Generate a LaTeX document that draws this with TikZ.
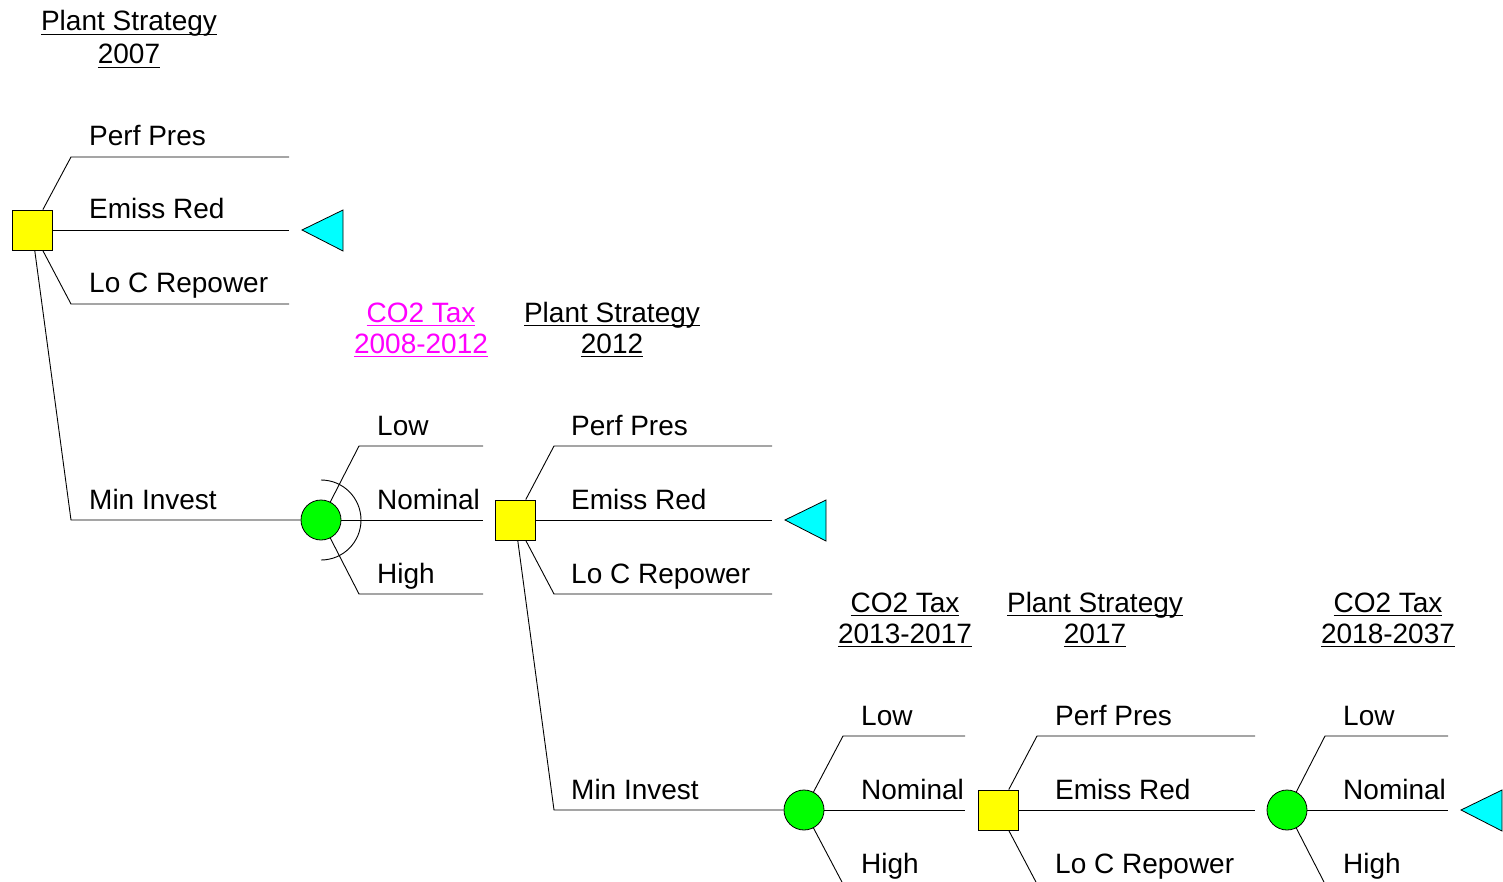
\documentclass[tikz,border=0pt]{standalone}
\usepackage{fontspec}
\setmainfont{Liberation Sans}
\newcommand\ulx[1]{\setbox0=\hbox{#1}\rlap{\rule[-4pt]{\wd0}{1.3pt}}\box0}
\definecolor{decyellow}{RGB}{255,255,0}
\definecolor{chgreen}{RGB}{0,255,0}
\definecolor{endcyan}{RGB}{0,255,255}
\definecolor{hdrmag}{RGB}{255,0,255}
\begin{document}
\begin{tikzpicture}[x=1pt,y=1pt,
  lbl/.style={anchor=base west, inner sep=0pt, font=\fontsize{28}{33}\selectfont},
  hdr/.style={anchor=base, inner sep=0pt, font=\fontsize{28}{33}\selectfont},
  decnode/.style={draw=black, fill=decyellow, minimum size=40pt, inner sep=0pt, line width=0.8pt},
  chnode/.style={circle, draw=black, fill=chgreen, minimum size=40pt, inner sep=0pt, line width=0.8pt},
  branch/.style={line width=0.9pt, black},
  endtri/.style={draw=black, fill=endcyan, line width=0.8pt}]
\useasboundingbox (0,0) rectangle (1503,-882);

% ---------- headers ----------
\node[hdr] (h1a) at (129,-31) {\ulx{Plant Strategy}};
\node[hdr] (h1b) at (129,-64) {\ulx{2007}};
\node[hdr, text=hdrmag] (h2a) at (421,-322) {\ulx{CO2 Tax}};
\node[hdr, text=hdrmag] (h2b) at (421,-353) {\ulx{2008-2012}};
\node[hdr] (h3a) at (612,-322) {\ulx{Plant Strategy}};
\node[hdr] (h3b) at (612,-353) {\ulx{2012}};
\node[hdr] (h4a) at (905,-612) {\ulx{CO2 Tax}};
\node[hdr] (h4b) at (905,-643) {\ulx{2013-2017}};
\node[hdr] (h5a) at (1095,-612) {\ulx{Plant Strategy}};
\node[hdr] (h5b) at (1095,-643) {\ulx{2017}};
\node[hdr] (h6a) at (1388,-612) {\ulx{CO2 Tax}};
\node[hdr] (h6b) at (1388,-643) {\ulx{2018-2037}};

% ---------- nodes ----------
\node[decnode] (d1) at (32,-230) {};
\node[chnode]  (c1) at (321,-520) {};
\node[decnode] (d2) at (515,-520) {};
\node[chnode]  (c2) at (804,-810) {};
\node[decnode] (d3) at (998,-810) {};
\node[chnode]  (c3) at (1287,-810) {};

% ---------- branch coordinates ----------
\coordinate (d1a) at (71,-157);  \coordinate (d1ae) at (289,-157);
\coordinate (d1be) at (289,-230);
\coordinate (d1c) at (71,-304);  \coordinate (d1ce) at (289,-304);
\coordinate (d1d) at (71,-520);

\coordinate (c1a) at (359,-446); \coordinate (c1ae) at (483,-446);
\coordinate (c1be) at (483,-520);
\coordinate (c1c) at (359,-594); \coordinate (c1ce) at (483,-594);

\coordinate (d2a) at (554,-446); \coordinate (d2ae) at (772,-446);
\coordinate (d2be) at (772,-520);
\coordinate (d2c) at (554,-594); \coordinate (d2ce) at (772,-594);
\coordinate (d2d) at (554,-810);

\coordinate (c2a) at (843,-736); \coordinate (c2ae) at (965,-736);
\coordinate (c2be) at (965,-810);
\coordinate (c2c) at (843,-884); \coordinate (c2ce) at (965,-884);

\coordinate (d3a) at (1037,-736); \coordinate (d3ae) at (1255,-736);
\coordinate (d3be) at (1255,-810);
\coordinate (d3c) at (1037,-884); \coordinate (d3ce) at (1255,-884);

\coordinate (c3a) at (1325,-736); \coordinate (c3ae) at (1448,-736);
\coordinate (c3be) at (1448,-810);
\coordinate (c3c) at (1325,-884); \coordinate (c3ce) at (1448,-884);

% ---------- branches ----------
\draw[branch] (d1) -- (d1a) -- (d1ae);
\draw[branch] (d1) -- (d1be);
\draw[branch] (d1) -- (d1c) -- (d1ce);
\draw[branch] (d1) -- (d1d) -- (c1);

\draw[branch] (c1) -- (c1a) -- (c1ae);
\draw[branch] (c1) -- (c1be);
\draw[branch] (c1) -- (c1c) -- (c1ce);
\draw[branch] (321,-480) arc[start angle=90, end angle=-90, radius=40];

\draw[branch] (d2) -- (d2a) -- (d2ae);
\draw[branch] (d2) -- (d2be);
\draw[branch] (d2) -- (d2c) -- (d2ce);
\draw[branch] (d2) -- (d2d) -- (c2);

\draw[branch] (c2) -- (c2a) -- (c2ae);
\draw[branch] (c2) -- (c2be);
\draw[branch] (c2) -- (c2c) -- (c2ce);

\draw[branch] (d3) -- (d3a) -- (d3ae);
\draw[branch] (d3) -- (d3be);
\draw[branch] (d3) -- (d3c) -- (d3ce);

\draw[branch] (c3) -- (c3a) -- (c3ae);
\draw[branch] (c3) -- (c3be);
\draw[branch] (c3) -- (c3c) -- (c3ce);

% ---------- end triangles ----------
\coordinate (t1) at (302,-230);
\coordinate (t2) at (785,-520);
\coordinate (t3) at (1461,-810);
\draw[endtri] (t1) -- ++(41,20) -- ++(0,-41) -- cycle;
\draw[endtri] (t2) -- ++(41,20) -- ++(0,-41) -- cycle;
\draw[endtri] (t3) -- ++(41,20) -- ++(0,-41) -- cycle;

% ---------- labels ----------
\node[lbl] (l1a) at (89,-146) {Perf Pres};
\node[lbl] (l1b) at (89,-219) {Emiss Red};
\node[lbl] (l1c) at (89,-293) {Lo C Repower};
\node[lbl] (l1d) at (89,-509) {Min Invest};

\node[lbl] (l2a) at (377,-435) {Low};
\node[lbl] (l2b) at (377,-509) {Nominal};
\node[lbl] (l2c) at (377,-583) {High};

\node[lbl] (l3a) at (571,-435) {Perf Pres};
\node[lbl] (l3b) at (571,-509) {Emiss Red};
\node[lbl] (l3c) at (571,-583) {Lo C Repower};
\node[lbl] (l3d) at (571,-799) {Min Invest};

\node[lbl] (l4a) at (861,-725) {Low};
\node[lbl] (l4b) at (861,-799) {Nominal};
\node[lbl] (l4c) at (861,-873) {High};

\node[lbl] (l5a) at (1055,-725) {Perf Pres};
\node[lbl] (l5b) at (1055,-799) {Emiss Red};
\node[lbl] (l5c) at (1055,-873) {Lo C Repower};

\node[lbl] (l6a) at (1343,-725) {Low};
\node[lbl] (l6b) at (1343,-799) {Nominal};
\node[lbl] (l6c) at (1343,-873) {High};
\end{tikzpicture}
\end{document}
